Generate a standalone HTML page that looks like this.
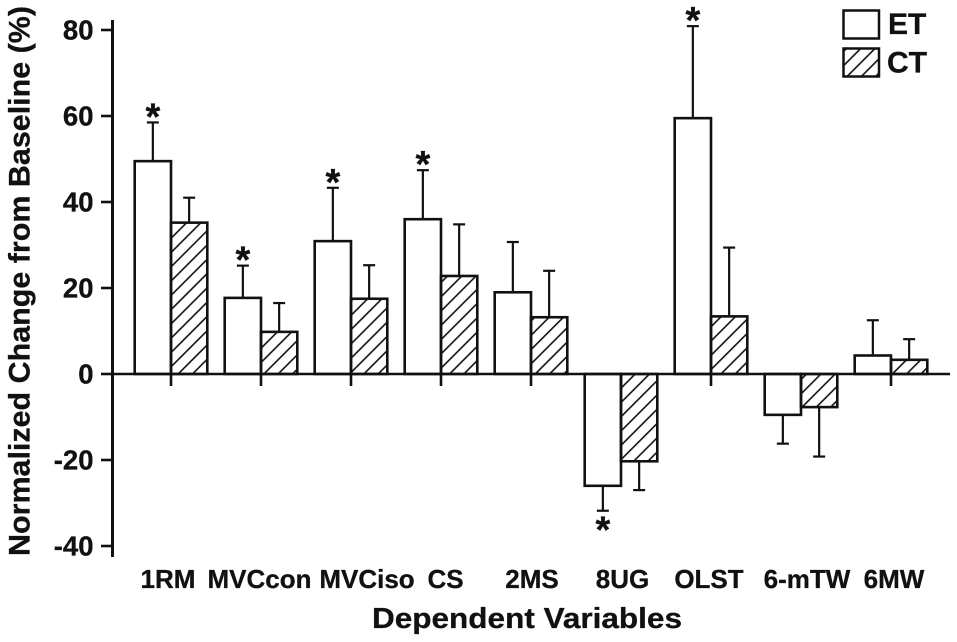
<!DOCTYPE html>
<html lang="en">
<head>
<meta charset="utf-8">
<title>Normalized Change from Baseline</title>
<style>
html,body{margin:0;padding:0;background:#fff;}
svg{display:block;}
text{font-family:"Liberation Sans",Arial,sans-serif;font-weight:bold;fill:#111;stroke:#111;stroke-width:0.3;}
</style>
</head>
<body>
<svg id="chart" xmlns="http://www.w3.org/2000/svg" width="957" height="642" viewBox="0 0 957 642">
<defs>
<pattern id="hatch" patternUnits="userSpaceOnUse" width="10.1" height="10.1" patternTransform="translate(171 374) rotate(45)">
<rect x="4.25" y="0" width="1.6" height="10.1" fill="#111"/>
</pattern>
</defs>
<text transform="translate(29.5 281) rotate(-90)" text-anchor="middle" font-size="30" textLength="550" lengthAdjust="spacingAndGlyphs">Normalized Change from Baseline (%)</text>
<text x="527" y="628" text-anchor="middle" font-size="29" textLength="310" lengthAdjust="spacingAndGlyphs">Dependent Variables</text>
<g>
<rect x="843.5" y="10.5" width="35.5" height="28" fill="#fff" stroke="#111" stroke-width="2.5"/>
<text x="888" y="34" font-size="30">ET</text>
<rect x="843.5" y="48.5" width="35.5" height="28" fill="url(#hatch)" stroke="#111" stroke-width="2.5"/>
<text x="887" y="72.5" font-size="30">CT</text>
</g>
<g id="marks"></g>
</svg>
<script>
const categories = ["1RM","MVCcon","MVCiso","CS","2MS","8UG","OLST","6-mTW","6MW"];
const etValues = [49.5,17.7,30.9,36,19,-26,59.5,-9.5,4.3];
const ctValues = [35.2,9.8,17.5,22.8,13.2,-20.3,13.4,-7.7,3.3];
const etErrorEnds = [58.5,25.2,43.3,47.4,30.7,-31.8,80.9,-16.2,12.5];
const ctErrorEnds = [41,16.5,25.3,34.8,24,-27,29.4,-19.2,8.1];
const etSignificant = [true,true,true,true,false,true,true,false,false];
const yTicks = [80,60,40,20,0,-20,-40];

const labelNudges = [-3,-1.5,16,4.5,1,1.5,-2,6,3];
const NS = "http://www.w3.org/2000/svg";
const root = document.getElementById("marks");
const INK = "#111";
function y(v){ return 374 - v * 4.3; }
function groupX(i){ return 171 + i * 90; }
function shape(tag, attrs, parent){
  const el = document.createElementNS(NS, tag);
  for (const k in attrs) el.setAttribute(k, attrs[k]);
  (parent || root).appendChild(el);
  return el;
}
const BAR_W = 36.3;

function drawBar(i, value, errEnd, isCt){
  const x0 = isCt ? groupX(i) : groupX(i) - BAR_W;
  const cx = x0 + BAR_W / 2;
  const seriesName = isCt ? "ct" : "et";
  const err = shape("line", {x1:cx, x2:cx, y1:y(value), y2:y(errEnd), stroke:INK, "stroke-width":2.2});
  
  
  const cap = shape("line", {x1:cx-6, x2:cx+6, y1:y(errEnd), y2:y(errEnd), stroke:INK, "stroke-width":2.2});
  
  
  const bar = shape("rect", {
    x:x0, y:Math.min(y(value), y(0)), width:BAR_W, height:Math.abs(y(value) - y(0)),
    fill:isCt ? "url(#hatch)" : "#fff", stroke:INK, "stroke-width":2.6
  });
  
  
}

categories.forEach(function(c, i){
  drawBar(i, etValues[i], etErrorEnds[i], false);
  drawBar(i, ctValues[i], ctErrorEnds[i], true);
});

categories.forEach(function(c, i){
  if (!etSignificant[i]) return;
  const cx = groupX(i) - BAR_W / 2;
  const below = etValues[i] < 0;
  const star = shape("text", {x:cx, y:y(etErrorEnds[i]) + (below ? 32 : 7), "text-anchor":"middle", "font-size":38});
  
  
  star.textContent = "*";
});

const yAxis = shape("line", {x1:112.5, x2:112.5, y1:20, y2:557, stroke:INK, "stroke-width":3});


const xAxis = shape("line", {x1:112, x2:950, y1:y(0), y2:y(0), stroke:INK, "stroke-width":2.6});



yTicks.forEach(function(t){
  const tick = shape("line", {x1:101, x2:112, y1:y(t), y2:y(t), stroke:INK, "stroke-width":2.6});
  
  
  const label = shape("text", {x:93.5, y:y(t) + 9.5, "text-anchor":"end", "font-size":27.5});
  
  
  label.textContent = t;
});

categories.forEach(function(c, i){
  const tick = shape("line", {x1:groupX(i), x2:groupX(i), y1:y(0), y2:386, stroke:INK, "stroke-width":2.6});
  
  
  const label = shape("text", {x:groupX(i) + labelNudges[i], y:588, "text-anchor":"middle", "font-size":26});
  
  
  label.textContent = c;
});
</script>
</body>
</html>
